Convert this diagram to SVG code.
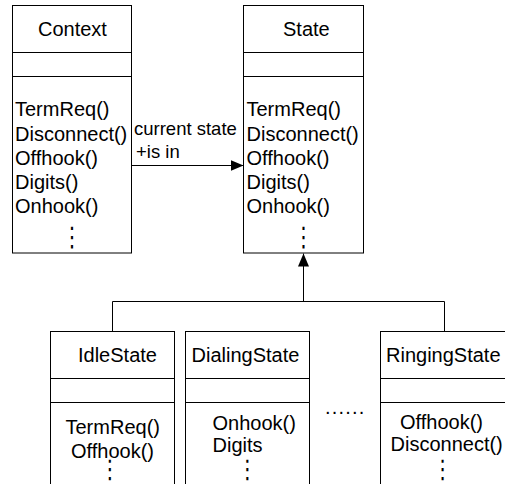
<svg xmlns="http://www.w3.org/2000/svg" width="505" height="484" viewBox="0 0 505 484">
<defs>
<style>
.box{fill:#fff;stroke:#000;stroke-width:1}
.sep{stroke:#000;stroke-width:1;fill:none}
text{font-family:"Liberation Sans",Arial,sans-serif;font-size:20px;fill:#000}
.lbl{font-size:18.5px}
.vd{font-family:"DejaVu Sans",sans-serif;font-size:20px;text-anchor:middle}
.conn{stroke:#000;stroke-width:1;fill:none}
</style>
<marker id="ah" viewBox="0 0 13 11" refX="13" refY="5.5" markerWidth="13" markerHeight="11" markerUnits="userSpaceOnUse" orient="auto">
<path d="M0,0 L13,5.5 L0,11 z" fill="#000"/>
</marker>
</defs>
<rect width="505" height="484" fill="#fff"/>

<g id="connectors">
<path class="conn" d="M131.5,165.5 H243.5" marker-end="url(#ah)"/>
<path class="conn" d="M112.5,331.5 V301.5 H444.5 V331.5"/>
<path class="conn" d="M303.5,301.5 V253.5" marker-end="url(#ah)"/>
<text class="lbl" x="134" y="135">current state</text>
<text class="lbl" x="136" y="158">+is in</text>
</g>

<g id="context">
<rect class="box" x="12.5" y="5.5" width="119" height="247.5"/>
<path class="sep" d="M12.5,52.5 H131.5 M12.5,76.5 H131.5"/>
<text x="38" y="36">Context</text>
<text x="15" y="116">TermReq()</text>
<text x="15" y="140.5">Disconnect()</text>
<text x="15" y="165">Offhook()</text>
<text x="15" y="189">Digits()</text>
<text x="15" y="213">Onhook()</text>
<text class="vd" transform="translate(72,245.5) scale(1,1.35)">⋮</text>
</g>

<g id="state">
<rect class="box" x="243.5" y="5.5" width="120" height="247.5"/>
<path class="sep" d="M243.5,52.5 H363.5 M243.5,76.5 H363.5"/>
<text x="283" y="36">State</text>
<text x="246.5" y="116">TermReq()</text>
<text x="246.5" y="140.5">Disconnect()</text>
<text x="246.5" y="165">Offhook()</text>
<text x="246.5" y="189">Digits()</text>
<text x="246.5" y="213">Onhook()</text>
<text class="vd" transform="translate(303.5,245.5) scale(1,1.35)">⋮</text>
</g>

<g id="idlestate">
<rect class="box" x="50.5" y="331.5" width="124" height="160"/>
<path class="sep" d="M50.5,378.5 H174.5 M50.5,402.5 H174.5"/>
<text x="78" y="362">IdleState</text>
<text x="65.5" y="433.5">TermReq()</text>
<text x="71" y="457.5">Offhook()</text>
<text class="vd" transform="translate(110,478) scale(1,1.3)">⋮</text>
</g>

<g id="dialingstate">
<rect class="box" x="185.5" y="331.5" width="124" height="160"/>
<path class="sep" d="M185.5,378.5 H309.5 M185.5,402.5 H309.5"/>
<text x="191.5" y="362">DialingState</text>
<text x="212.5" y="429.5">Onhook()</text>
<text x="212.5" y="452">Digits</text>
<text class="vd" transform="translate(247.5,478) scale(1,1.3)">⋮</text>
</g>

<g id="more">
<text x="325" y="414" letter-spacing="1.2">......</text>
</g>

<g id="ringingstate">
<rect class="box" x="380.5" y="331.5" width="130" height="160"/>
<path class="sep" d="M380.5,378.5 H510 M380.5,402.5 H510"/>
<text x="386" y="362">RingingState</text>
<text x="400" y="429">Offhook()</text>
<text x="390.5" y="451">Disconnect()</text>
<text class="vd" transform="translate(442.7,478) scale(1,1.3)">⋮</text>
</g>
</svg>
